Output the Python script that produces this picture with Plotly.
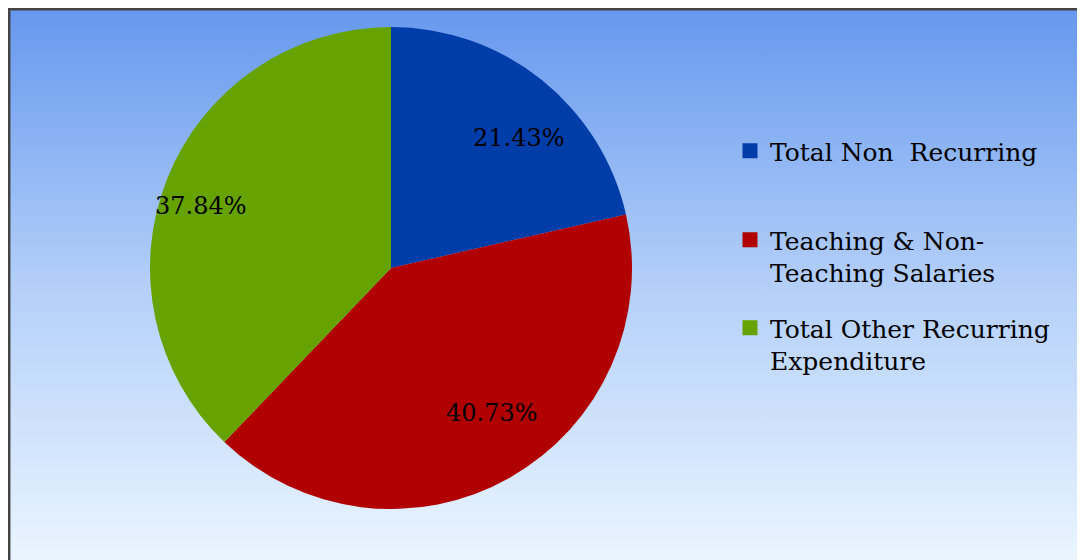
import base64
import math
import plotly.graph_objects as go

# ---- data ----
labels = ["Total Non  Recurring", "Teaching & Non-<br>Teaching Salaries", "Total Other Recurring<br>Expenditure"]
values = [21.43, 40.73, 37.84]
colors = ["#003da8", "#b00000", "#66a300"]

# page body has an 8px margin, so the figure is 8px smaller than the window
W, H = 1077, 552
FONT = "DejaVu Serif"

svg = f'''<svg xmlns="http://www.w3.org/2000/svg" width="{W}" height="{H}" preserveAspectRatio="none">
<defs><linearGradient id="g" x1="0" y1="0" x2="0" y2="1">
<stop offset="0" stop-color="#6698ee"/>
<stop offset="0.5" stop-color="#b3cff9"/>
<stop offset="1" stop-color="#eaf5ff"/>
</linearGradient></defs>
<rect x="0" y="0" width="{W}" height="{H}" fill="url(#g)"/></svg>'''
src = "data:image/svg+xml;base64," + base64.b64encode(svg.encode()).decode()

fig = go.Figure()

r = 241
cx, cy = 383, 260
fig.add_trace(go.Pie(
    labels=labels, values=values, sort=False, direction="clockwise", rotation=0,
    marker=dict(colors=colors, line=dict(width=0)),
    textinfo="none",
    domain=dict(x=[(cx - r) / W, (cx + r) / W], y=[(H - cy - r) / H, (H - cy + r) / H]),
    showlegend=False, hoverinfo="label+percent",
))

# percentage labels placed along each slice's mid-angle
total = sum(values)
annotations = []
cum = 0.0
for v in values:
    mid = (cum + v / 2) / total * 2 * math.pi
    cum += v
    px = cx + 0.85 * r * math.sin(mid)
    py = cy - 0.69 * r * math.cos(mid)
    annotations.append(dict(
        x=px / W, y=1 - py / H, xref="paper", yref="paper", showarrow=False,
        text=f"{v / total * 100:.2f}%", font=dict(family=FONT, size=24, color="black"),
        xanchor="center", yanchor="middle",
    ))

# legend entries (one legend each, to mimic evenly spaced entries)
legend_top = [120, 209, 297]
for i, (lab, col) in enumerate(zip(labels, colors)):
    lname = "legend" if i == 0 else f"legend{i+1}"
    fig.add_trace(go.Scatter(
        x=[None], y=[None], mode="markers", name=lab,
        marker=dict(symbol="square", size=15, color=col),
        legend=lname, showlegend=True, hoverinfo="skip",
    ))

common = dict(font=dict(family=FONT, size=25, color="black"), bgcolor="rgba(0,0,0,0)",
              xanchor="left", yanchor="top", valign="top", itemclick=False, itemdoubleclick=False)
layout_legends = {}
for i, ly in enumerate(legend_top):
    lname = "legend" if i == 0 else f"legend{i+1}"
    layout_legends[lname] = dict(x=722 / W, y=1 - ly / H, **common)

fig.update_layout(
    width=W, height=H, margin=dict(l=0, r=0, t=0, b=0),
    paper_bgcolor="white", plot_bgcolor="rgba(0,0,0,0)",
    xaxis=dict(visible=False, domain=[0.99, 1]), yaxis=dict(visible=False, domain=[0.99, 1]),
    images=[dict(source=src, xref="paper", yref="paper", x=0, y=1,
                 sizex=1, sizey=1, xanchor="left", yanchor="top", sizing="stretch", layer="below")],
    shapes=[dict(type="rect", xref="paper", yref="paper", x0=1.2 / W, x1=1.1, y0=-0.1, y1=1 - 1.2 / H,
                 line=dict(color="#444444", width=2.5), fillcolor="rgba(0,0,0,0)")],
    annotations=annotations,
    **layout_legends,
)

fig.write_html("out.html")
